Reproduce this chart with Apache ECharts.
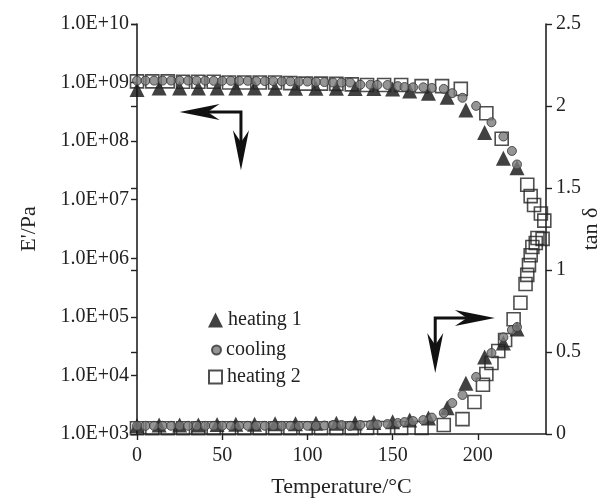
<!DOCTYPE html>
<html><head><meta charset="utf-8">
<script src="https://cdn.jsdelivr.net/npm/echarts@6/dist/echarts.min.js"></script>
<style>html,body{margin:0;padding:0;background:#fff}#c{width:603px;height:498px}</style>
</head><body><div id="c"></div>
<script>
// ---- data ----
const xTicks = [0, 50, 100, 150, 200];
const yLeftTickValues = [1e3, 1e4, 1e5, 1e6, 1e7, 1e8, 1e9, 1e10];
const yLeftTicks = ['1.0E+03','1.0E+04','1.0E+05','1.0E+06','1.0E+07','1.0E+08','1.0E+09','1.0E+10'];
const yRightTicks = [0, 0.5, 1, 1.5, 2, 2.5];

const heating1Temp = [0, 13, 25, 36, 47, 58, 69, 81, 93, 105, 117, 128, 139, 150, 160, 171, 182, 193, 204, 215, 223];
const heating1E    = [7.6e8, 8.1e8, 8.1e8, 8.1e8, 8.1e8, 8.1e8, 8.1e8, 8.0e8, 8.0e8, 8.0e8, 8.0e8, 7.9e8, 7.9e8, 7.8e8, 7.2e8, 6.6e8, 5.6e8, 3.4e8, 1.4e8, 5.1e7, 3.5e7];
const heating1Tan  = [0.05, 0.055, 0.055, 0.055, 0.058, 0.06, 0.06, 0.062, 0.063, 0.065, 0.066, 0.067, 0.07, 0.075, 0.085, 0.098, 0.16, 0.31, 0.47, 0.555, 0.64];

const coolingTemp = [0,5,10,15,20,25,30,35,40,45,50,55,60,65,70,75,80,85,90,95,100,105,110,115,120,125,131,137,141,147,153,157,162,168,173,180,185,191,199,208,215,220,223];
const coolingE    = [1.08e9,1.08e9,1.08e9,1.08e9,1.08e9,1.08e9,1.08e9,1.08e9,1.08e9,1.07e9,1.07e9,1.07e9,1.07e9,1.07e9,1.06e9,1.06e9,1.06e9,1.05e9,1.05e9,1.04e9,1.04e9,1.03e9,1.02e9,1.0e9,1.0e9,1.0e9,9.2e8,9.2e8,9.1e8,9.1e8,8.7e8,8.4e8,8.3e8,8.3e8,8.1e8,7.8e8,6.6e8,5.5e8,4.0e8,2.1e8,1.2e8,6.8e7,4.0e7];
const coolingTan  = [0.05,0.05,0.05,0.05,0.05,0.05,0.05,0.05,0.05,0.05,0.05,0.05,0.05,0.05,0.05,0.05,0.05,0.05,0.05,0.05,0.05,0.05,0.052,0.055,0.055,0.05,0.055,0.055,0.058,0.061,0.067,0.073,0.079,0.085,0.1,0.128,0.189,0.238,0.348,0.494,0.59,0.634,0.652];

const heating2TempE = [0, 9, 18, 27, 36, 45, 54, 63, 72, 81, 90, 99, 108, 117, 126, 135, 145, 155, 167, 179, 190, 205, 214, 229, 231, 233, 237, 239];
const heating2E     = [1.05e9,1.05e9,1.05e9,1.03e9,1.03e9,1.03e9,1.0e9,1.0e9,1.0e9,1.0e9,9.8e8,9.6e8,9.6e8,9.5e8,9.3e8,9.1e8,9.1e8,9.1e8,8.7e8,8.7e8,7.8e8,3.0e8,1.1e8,1.8e7,1.15e7,8.1e6,5.8e6,4.4e6];
const heating2TempTan = [0, 9, 18, 27, 36, 45, 54, 63, 72, 81, 90, 99, 108, 117, 126, 135, 145, 155, 167, 180, 191, 198, 203, 205, 208, 212, 216, 221, 225, 228, 229, 230, 231, 232, 234, 235, 238];
const heating2Tan     = [0.035,0.035,0.035,0.035,0.035,0.035,0.035,0.035,0.035,0.035,0.035,0.035,0.035,0.035,0.035,0.037,0.037,0.037,0.037,0.055,0.091,0.195,0.3,0.366,0.433,0.506,0.573,0.70,0.80,0.915,0.97,1.03,1.09,1.14,1.165,1.195,1.19];

// arrows (annotation) in data coordinates
const arrowE   = {corner: [61, 3.15e8], tipLeft: [25, 3.15e8], tipDown: [61, 3.2e7]};
const arrowTan = {corner: [175, 0.707], tipRight: [210, 0.707], tipDown: [175, 0.372]};

const zip = (a, b) => a.map((v, i) => [v, b[i]]);
const FONT = '"Liberation Serif", "Times New Roman", serif';
const INK = '#222';

const triStyle = {color: '#111', borderColor: '#111', borderWidth: 0};
const cirStyle = {color: '#7a7a7a', borderColor: '#333', borderWidth: 1};
const sqStyle  = {color: 'rgba(255,255,255,0)', borderColor: '#222', borderWidth: 1.6};

const chart = echarts.init(document.getElementById('c'));
function legendFor(name, icon, size, top, left) {
  return {
    show: true, selectedMode: false, left: left, top: top, padding: 0,
    itemWidth: size, itemHeight: size, itemGap: 0,
    data: [{name: name, icon: icon}],
    textStyle: {fontFamily: FONT, fontSize: 20, color: INK, padding: [0, 0, 0, 0]}
  };
}
const option = {
  animation: false,
  backgroundColor: '#fff',
  grid: {left: 137, right: 57, top: 24, bottom: 64, containLabel: false, outerBoundsMode: 'none'},
  legend: [
    legendFor('heating 1', 'triangle', 15, 310, 208),
    legendFor('cooling', 'circle', 9, 340, 211),
    legendFor('heating 2', 'rect', 13, 367, 208)
  ],
  xAxis: {
    type: 'value', min: 0, max: 240, interval: 50,
    name: 'Temperature/°C', nameLocation: 'middle', nameGap: 42, nameMoveOverlap: false,
    nameTextStyle: {fontFamily: FONT, fontSize: 22, color: INK},
    axisLine: {show: true, onZero: false, lineStyle: {color: INK, width: 1.6}},
    axisTick: {show: true, inside: false, length: 6, lineStyle: {color: INK, width: 1.4}},
    axisLabel: {fontFamily: FONT, fontSize: 20, color: INK, margin: 12, showMaxLabel: false,
      formatter: v => (xTicks.indexOf(v) >= 0 ? String(v) : '')},
    splitLine: {show: false}
  },
  yAxis: [
    {
      type: 'log', logBase: 10, min: 1e3, max: 1e10, position: 'left',
      name: "E'/Pa", nameLocation: 'middle', nameGap: 97, nameRotate: 90, nameMoveOverlap: false,
      nameTextStyle: {fontFamily: FONT, fontSize: 22, color: INK},
      axisLine: {show: true, onZero: false, lineStyle: {color: INK, width: 1.6}},
      axisTick: {show: true, inside: false, length: 6, customValues: yLeftTickValues, lineStyle: {color: INK, width: 1.4}},
      minorTick: {show: false},
      axisLabel: {fontFamily: FONT, fontSize: 20, color: INK, margin: 8, customValues: yLeftTickValues,
        formatter: v => { const e = Math.log10(v); if (Math.abs(e - Math.round(e)) > 1e-6) return ''; return yLeftTicks[Math.round(e) - 3] || ''; }},
      splitLine: {show: false}
    },
    {
      type: 'value', min: 0, max: 2.5, interval: 0.5, position: 'right',
      name: 'tan δ', nameLocation: 'middle', nameGap: 34, nameRotate: 90, nameMoveOverlap: false,
      nameTextStyle: {fontFamily: FONT, fontSize: 22, color: INK},
      axisLine: {show: true, onZero: false, lineStyle: {color: INK, width: 1.6}},
      axisTick: {show: true, inside: false, length: 6, lineStyle: {color: INK, width: 1.4}},
      axisLabel: {fontFamily: FONT, fontSize: 20, color: INK, margin: 10,
        formatter: v => { const i = yRightTicks.indexOf(v); return i >= 0 ? String(yRightTicks[i]) : ''; }},
      splitLine: {show: false}
    },
    {
      type: 'value', min: 0, max: 2.5, interval: 0.5, position: 'right',
      axisLine: {show: false},
      axisTick: {show: true, inside: true, length: 6, lineStyle: {color: INK, width: 1.4}},
      axisLabel: {show: false}, splitLine: {show: false}
    }
  ],
  series: [
    {name: 'heating 1', type: 'scatter', yAxisIndex: 0, symbol: 'triangle', symbolSize: 15, z: 2, itemStyle: triStyle, data: zip(heating1Temp, heating1E)},
    {name: 'heating 1', type: 'scatter', yAxisIndex: 1, symbol: 'triangle', symbolSize: 15, z: 2, itemStyle: triStyle, data: zip(heating1Temp, heating1Tan)},
    {name: 'heating 2', type: 'scatter', yAxisIndex: 0, symbol: 'rect', symbolSize: 13, z: 3, itemStyle: sqStyle, data: zip(heating2TempE, heating2E)},
    {name: 'heating 2', type: 'scatter', yAxisIndex: 1, symbol: 'rect', symbolSize: 13, z: 3, itemStyle: sqStyle, data: zip(heating2TempTan, heating2Tan)},
    {name: 'cooling', type: 'scatter', yAxisIndex: 0, symbol: 'circle', symbolSize: 9, z: 4, itemStyle: cirStyle, data: zip(coolingTemp, coolingE)},
    {name: 'cooling', type: 'scatter', yAxisIndex: 1, symbol: 'circle', symbolSize: 9, z: 4, itemStyle: cirStyle, data: zip(coolingTemp, coolingTan)}
  ]
};
chart.setOption(option);

// annotation arrows
function px(pt, yi) { return chart.convertToPixel({xAxisIndex: 0, yAxisIndex: yi}, pt); }
function arrowGraphics(corner, tipH, tipV) {
  const c = corner, h = tipH, v = tipV;
  const dirH = Math.sign(h[0] - c[0]);
  const dirV = Math.sign(v[1] - c[1]);
  const L = 40, N = 28, W = 8;
  const hBack = h[0] - dirH * N, vBack = v[1] - dirV * N;
  return [
    {type: 'polyline', shape: {points: [[hBack, c[1]], [c[0], c[1]], [c[0], vBack]]},
     style: {stroke: '#111', lineWidth: 3, fill: null}, z: 10},
    {type: 'polygon', shape: {points: [[h[0], h[1]], [h[0] - dirH * L, h[1] - W], [hBack, h[1]], [h[0] - dirH * L, h[1] + W]]},
     style: {fill: '#111'}, z: 10},
    {type: 'polygon', shape: {points: [[v[0], v[1]], [v[0] - W, v[1] - dirV * L], [v[0], vBack], [v[0] + W, v[1] - dirV * L]]},
     style: {fill: '#111'}, z: 10}
  ];
}
const g1 = arrowGraphics(px(arrowE.corner, 0), px(arrowE.tipLeft, 0), px(arrowE.tipDown, 0));
const g2 = arrowGraphics(px(arrowTan.corner, 1), px(arrowTan.tipRight, 1), px(arrowTan.tipDown, 1));
chart.setOption({graphic: g1.concat(g2)});
</script>
</body></html>
